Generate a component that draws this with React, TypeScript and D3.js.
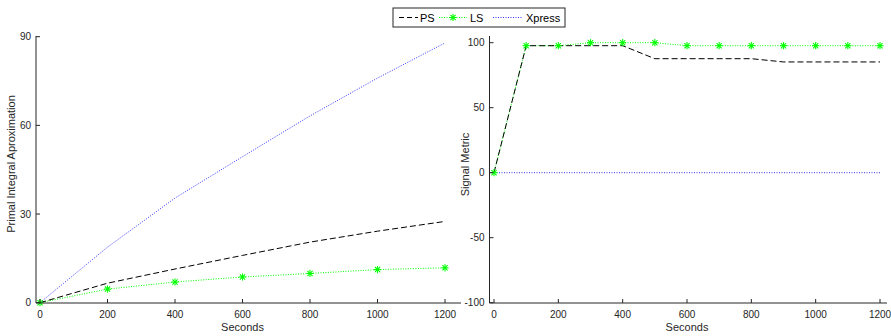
import React from "react";
import * as d3 from "d3";

const leftX = [0, 200, 400, 600, 800, 1000, 1200];
const leftPS = [0, 6.6, 11.4, 16.0, 20.5, 24.2, 27.5];
const leftLS = [0, 4.6, 7.0, 8.7, 9.9, 11.2, 11.8];
const leftXpress = [0, 18.8, 35.4, 49.4, 63.2, 76.0, 87.9];

const rightX = [0, 100, 200, 300, 400, 500, 600, 700, 800, 900, 1000, 1100, 1200];
const rightPS = [0, 97.7, 97.7, 97.7, 97.7, 87.7, 87.7, 87.7, 87.7, 85.2, 85.2, 85.2, 85.2];
const rightLS = [0, 97.7, 97.7, 100, 100, 100, 97.7, 97.7, 97.7, 97.7, 97.7, 97.7, 97.7];
const rightXpress = [0, 0, 0, 0, 0, 0, 0, 0, 0, 0, 0, 0, 0];

const xTicks = [0, 200, 400, 600, 800, 1000, 1200];
const leftYTicks = [0, 30, 60, 90];
const rightYTicks = [-100, -50, 0, 50, 100];

const FONT = "'Liberation Sans', Arial, sans-serif";
const AX = "#262626";

function Star({ x, y }: { x: number; y: number }) {
  const r = 3.6;
  const d = r * 0.72;
  return (
    <g stroke="#00ff00" strokeWidth={1.1}>
      <line x1={x - r} y1={y} x2={x + r} y2={y} />
      <line x1={x} y1={y - r} x2={x} y2={y + r} />
      <line x1={x - d} y1={y - d} x2={x + d} y2={y + d} />
      <line x1={x - d} y1={y + d} x2={x + d} y2={y - d} />
    </g>
  );
}

type PanelProps = {
  xs: number[];
  ps: number[];
  ls: number[];
  xp: number[];
  xRange: [number, number];
  yDomain: [number, number];
  yRange: [number, number];
  yTicks: number[];
  axisX: number;
  axisXEnd: number;
  axisY: number;
  axisTop: number;
  ylabel: string;
  ylabelX: number;
  ylabelY: number;
};

function Panel(p: PanelProps) {
  const x = d3.scaleLinear().domain([0, 1200]).range(p.xRange);
  const y = d3.scaleLinear().domain(p.yDomain).range(p.yRange);
  const line = (vals: number[]) =>
    d3
      .line<number>()
      .x((_, i) => x(p.xs[i]))
      .y((v) => y(v))(vals) as string;
  const midX = (p.xRange[0] + p.xRange[1]) / 2;
  return (
    <g>
      <path d={line(p.xp)} fill="none" stroke="#0000ff" strokeWidth={1} strokeDasharray="1,1.5" opacity={0.8} />
      <path d={line(p.ls)} fill="none" stroke="#00ff00" strokeWidth={1} strokeDasharray="1,1.5" />
      <path d={line(p.ps)} fill="none" stroke="#000" strokeWidth={1} strokeDasharray="6,3" />
      {p.ls.map((v, i) => (
        <Star key={i} x={x(p.xs[i])} y={y(v)} />
      ))}
      <line x1={p.axisX} y1={p.axisY} x2={p.axisXEnd} y2={p.axisY} stroke={AX} strokeWidth={1} />
      <line x1={p.axisX} y1={p.axisY} x2={p.axisX} y2={p.axisTop} stroke={AX} strokeWidth={1} />
      {xTicks.map((t) => (
        <g key={t}>
          <line x1={x(t)} x2={x(t)} y1={p.axisY} y2={p.axisY - 4} stroke={AX} />
          <text x={x(t)} y={p.axisY + 15} textAnchor="middle" fontSize={10} fill={AX} fontFamily={FONT}>
            {t}
          </text>
        </g>
      ))}
      {p.yTicks.map((t) => (
        <g key={t}>
          <line x1={p.axisX} x2={p.axisX + 4} y1={y(t)} y2={y(t)} stroke={AX} />
          <text x={p.axisX - 5} y={y(t) + 3.5} textAnchor="end" fontSize={10} fill={AX} fontFamily={FONT}>
            {t}
          </text>
        </g>
      ))}
      <text x={midX} y={p.axisY + 28} textAnchor="middle" fontSize={11} fill={AX} fontFamily={FONT}>
        Seconds
      </text>
      <text
        transform={`translate(${p.ylabelX},${p.ylabelY}) rotate(-90)`}
        textAnchor="middle"
        fontSize={11}
        fill={AX}
        fontFamily={FONT}
      >
        {p.ylabel}
      </text>
    </g>
  );
}

export default function App() {
  const lx = 393;
  const ly = 8;
  return (
    <svg width={891} height={336} style={{ position: "absolute", left: 0, top: 0, background: "#fff" }}>
      <rect width={891} height={336} fill="#fff" />
      <Panel
        xs={leftX}
        ps={leftPS}
        ls={leftLS}
        xp={leftXpress}
        xRange={[40, 445]}
        yDomain={[0, 90]}
        yRange={[302.7, 36.7]}
        yTicks={leftYTicks}
        axisX={36}
        axisXEnd={461}
        axisY={303}
        axisTop={36}
        ylabel="Primal Integral Aproximation"
        ylabelX={15}
        ylabelY={164}
      />
      <Panel
        xs={rightX}
        ps={rightPS}
        ls={rightLS}
        xp={rightXpress}
        xRange={[494, 880]}
        yDomain={[-100, 100]}
        yRange={[302.7, 42.7]}
        yTicks={rightYTicks}
        axisX={489.5}
        axisXEnd={887}
        axisY={303}
        axisTop={36}
        ylabel="Signal Metric"
        ylabelX={469}
        ylabelY={164.5}
      />
      <g>
        <rect x={lx} y={ly} width={172} height={19} fill="#fff" stroke={AX} strokeWidth={1} />
        <line x1={lx + 6} x2={lx + 25} y1={ly + 9.5} y2={ly + 9.5} stroke="#000" strokeDasharray="5,3" />
        <text x={lx + 27} y={ly + 13.5} fontSize={11} fill="#000" fontFamily={FONT}>PS</text>
        <line x1={lx + 46} x2={lx + 74} y1={ly + 9.5} y2={ly + 9.5} stroke="#00ff00" strokeDasharray="1,1.5" />
        <Star x={lx + 60} y={ly + 9.5} />
        <text x={lx + 77} y={ly + 13.5} fontSize={11} fill="#000" fontFamily={FONT}>LS</text>
        <line x1={lx + 100} x2={lx + 130} y1={ly + 9.5} y2={ly + 9.5} stroke="#0000ff" strokeDasharray="1,1.5" opacity={0.8} />
        <text x={lx + 133} y={ly + 13.5} fontSize={11} fill="#000" fontFamily={FONT}>Xpress</text>
      </g>
    </svg>
  );
}
